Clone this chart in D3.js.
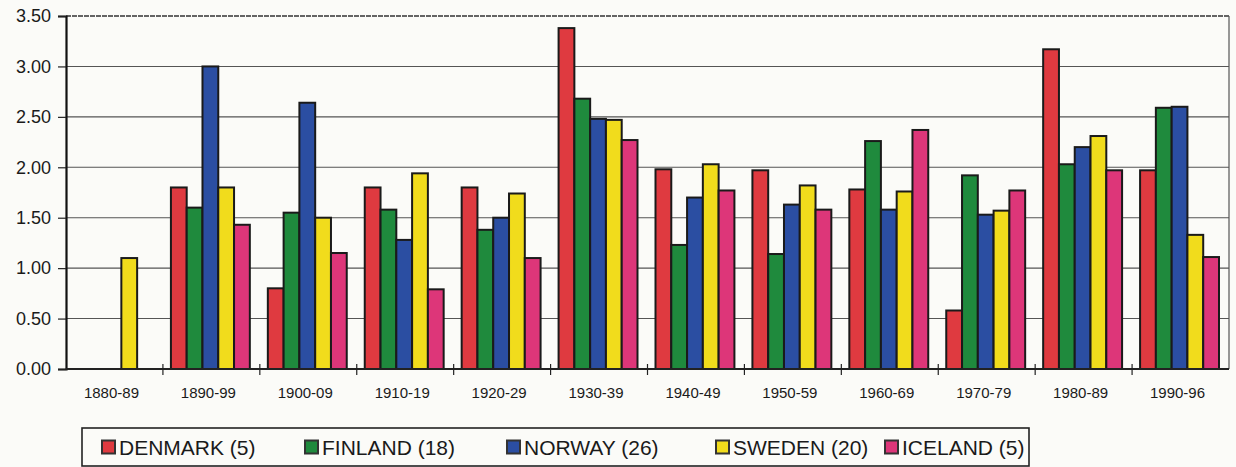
<!DOCTYPE html>
<html>
<head>
<meta charset="utf-8">
<script src="https://cdn.jsdelivr.net/npm/d3@7"></script>
<style>
  html, body { margin: 0; padding: 0; background: #fbfbf8; }
  svg { display: block; }
</style>
</head>
<body>
<svg id="chart" width="1236" height="467"></svg>
<script>
// Decades shown along the x axis
const decades = ["1880-89", "1890-99", "1900-09", "1910-19", "1920-29", "1930-39",
                 "1940-49", "1950-59", "1960-69", "1970-79", "1980-89", "1990-96"];

// Series names as shown in the legend
const seriesNames = ["DENMARK (5)", "FINLAND (18)", "NORWAY (26)", "SWEDEN (20)", "ICELAND (5)"];

// Values per decade for each country (null = no bar)
const denmark = [null, 1.80, 0.80, 1.80, 1.80, 3.38, 1.98, 1.97, 1.78, 0.58, 3.17, 1.97];
const finland = [null, 1.60, 1.55, 1.58, 1.38, 2.68, 1.23, 1.14, 2.26, 1.92, 2.03, 2.59];
const norway  = [null, 3.00, 2.64, 1.28, 1.50, 2.48, 1.70, 1.63, 1.58, 1.53, 2.20, 2.60];
const sweden  = [1.10, 1.80, 1.50, 1.94, 1.74, 2.47, 2.03, 1.82, 1.76, 1.57, 2.31, 1.33];
const iceland = [null, 1.43, 1.15, 0.79, 1.10, 2.27, 1.77, 1.58, 2.37, 1.77, 1.97, 1.11];

// Y axis tick values and labels
const yTicks = [0, 0.5, 1, 1.5, 2, 2.5, 3, 3.5];

const seriesValues = [denmark, finland, norway, sweden, iceland];
const colors = ["#df3a40", "#1f8a3d", "#2b4ea2", "#f1dc1c", "#dd3679"];

const svg = d3.select("#chart");
const plot = { left: 66, right: 1229, top: 16, bottom: 369 };

const x = d3.scaleBand().domain(decades).range([plot.left, plot.right]).padding(0);
const xs = d3.scaleBand().domain(d3.range(seriesNames.length))
  .range([8, x.bandwidth() - 10]).padding(0);
const y = d3.scaleLinear().domain([0, 3.5]).range([plot.bottom, plot.top]);

// Horizontal gridlines
svg.append("g").selectAll("line").data(yTicks.filter(d => d > 0)).join("line")
  .attr("x1", plot.left).attr("x2", plot.right)
  .attr("y1", d => y(d)).attr("y2", d => y(d))
  .attr("stroke", d => d === 3.5 ? "#333" : "#555")
  .attr("stroke-width", d => d === 3.5 ? 1.6 : 1.1)
  .attr("stroke-dasharray", d => d === 3.5 ? "5,1" : null);

// Right frame edge
svg.append("line")
  .attr("x1", plot.right).attr("x2", plot.right)
  .attr("y1", plot.top).attr("y2", plot.bottom)
  .attr("stroke", "#555").attr("stroke-width", 1.2);

// Bars
const groups = svg.append("g").selectAll("g").data(decades).join("g")
  .attr("transform", d => `translate(${x(d)},0)`);

groups.selectAll("rect")
  .data((d, i) => seriesValues.map((s, k) => ({ k, v: s[i] })).filter(e => e.v != null))
  .join("rect")
  .attr("x", e => xs(e.k))
  .attr("width", xs.bandwidth())
  .attr("y", e => y(e.v))
  .attr("height", e => y(0) - y(e.v))
  .attr("fill", e => colors[e.k])
  .attr("stroke", "#1a1a1a")
  .attr("stroke-width", 2);

// Y axis
const yAxis = svg.append("g")
  .attr("transform", `translate(${plot.left},0)`)
  .call(d3.axisLeft(y).tickValues(yTicks).tickFormat(d3.format(".2f")).tickSize(8).tickPadding(7));
yAxis.select(".domain").attr("stroke", "#111").attr("stroke-width", 2.2);
yAxis.selectAll(".tick line").attr("stroke", "#222").attr("stroke-width", 1.2);
yAxis.selectAll("text")
  .attr("font-family", "'Liberation Sans', Arial, sans-serif")
  .attr("font-size", 18).attr("fill", "#1a1a1a");

// X axis baseline with ticks crossing at band edges
const xAxis = svg.append("g").attr("transform", `translate(0,${plot.bottom})`);
xAxis.append("line")
  .attr("x1", plot.left).attr("x2", plot.right)
  .attr("stroke", "#222").attr("stroke-width", 1.8);
xAxis.selectAll("line.tk").data(decades.slice(1)).join("line")
  .attr("class", "tk")
  .attr("x1", d => x(d)).attr("x2", d => x(d))
  .attr("y1", -5).attr("y2", 6)
  .attr("stroke", "#222").attr("stroke-width", 1.2);
xAxis.selectAll("text").data(decades).join("text")
  .attr("x", d => x(d) + x.bandwidth() / 2 - 3)
  .attr("y", 29)
  .attr("text-anchor", "middle")
  .attr("font-family", "'Liberation Sans', Arial, sans-serif")
  .attr("font-size", 15).attr("fill", "#1a1a1a")
  .text(d => d);

// Legend
const legend = svg.append("g");
legend.append("rect")
  .attr("x", 82).attr("y", 428).attr("width", 947).attr("height", 38)
  .attr("fill", "none").attr("stroke", "#222").attr("stroke-width", 1.6);

const legendX = [102, 305, 507, 716, 885];
const items = legend.selectAll("g.item").data(seriesNames).join("g")
  .attr("class", "item")
  .attr("transform", (d, i) => `translate(${legendX[i]},447)`);
items.append("rect")
  .attr("x", 0).attr("y", -6.5).attr("width", 13).attr("height", 13)
  .attr("fill", (d, i) => colors[i])
  .attr("stroke", "#333").attr("stroke-width", 2);
items.append("text")
  .attr("x", 17).attr("y", 7.5)
  .attr("font-family", "'Liberation Sans', Arial, sans-serif")
  .attr("font-size", 21).attr("fill", "#1a1a1a")
  .text(d => d);
</script>
</body>
</html>
